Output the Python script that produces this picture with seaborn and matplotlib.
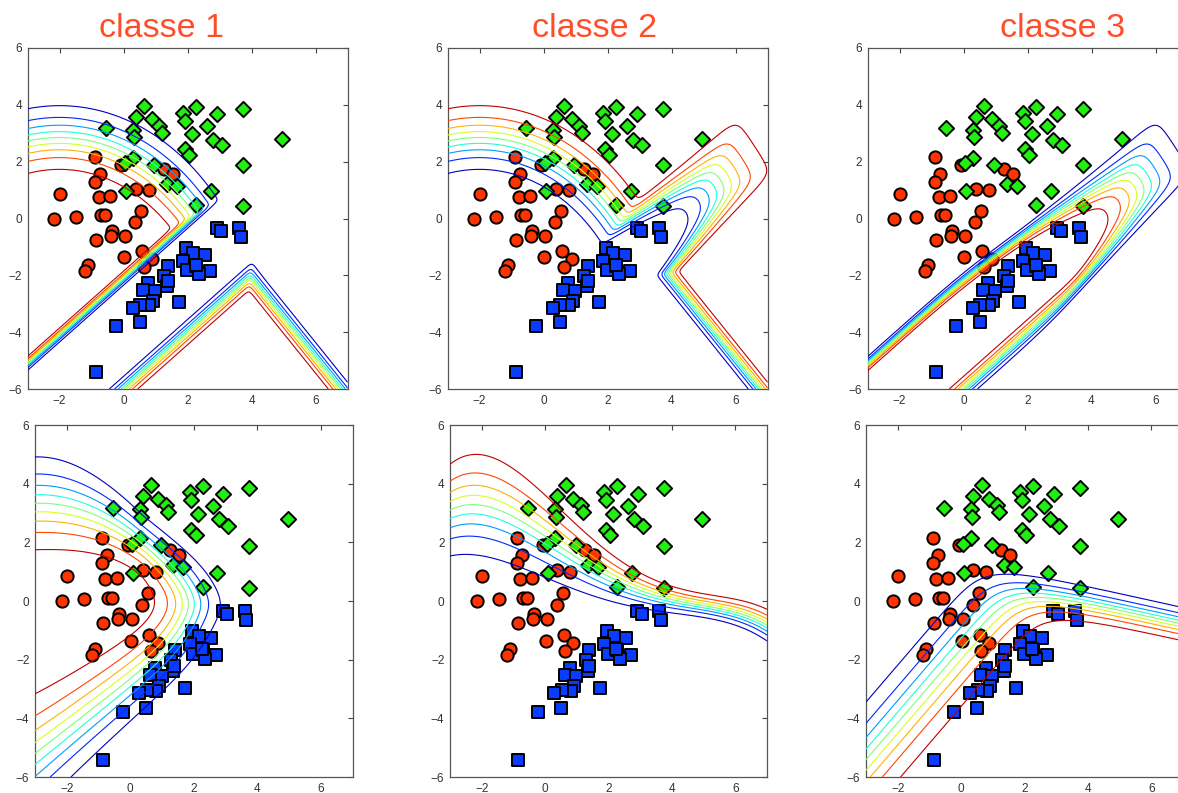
import numpy as np
import matplotlib
matplotlib.use("Agg")
import matplotlib.pyplot as plt
from matplotlib.colors import Normalize
from matplotlib.patches import Rectangle
import seaborn as sns

sns.set_style("white")
plt.rcParams["font.family"] = ["Liberation Sans", "DejaVu Sans"]

# ── data ──────────────────────────────────────
red_x = [-0.90, -1.99, -2.16, -1.47, -0.73, -0.90, -0.78, -0.42, -0.70, -0.57,
         -0.85, -0.36, -0.38, 0.05, 0.02, -1.11, -1.19, -0.08, 0.39, 0.80,
         0.55, 0.36, 0.59, 0.88, 0.64, 1.25, 1.54]
red_y = [2.16, 0.85, -0.01, 0.06, 1.58, 1.28, 0.75, 0.79, 0.11, 0.11,
         -0.74, -0.45, -0.60, -0.62, -1.36, -1.65, -1.85, 1.90, 1.04, 1.00,
         0.28, -0.12, -1.15, -1.42, -1.70, 1.73, 1.58]

green_x = [0.65, 0.39, -0.54, 0.31, 0.34, 0.88, 1.12, 1.19, 1.87, 1.92,
           2.28, 2.93, 3.74, 2.60, 2.13, 2.80, 3.09, 4.96, 1.92, 2.06,
           0.31, 0.05, 0.96, 1.35, 1.66, 0.08, 2.73, 2.28, 3.74, 3.74]
green_y = [3.96, 3.58, 3.17, 3.13, 2.88, 3.49, 3.27, 3.02, 3.72, 3.43,
           3.93, 3.66, 3.84, 3.25, 2.96, 2.78, 2.57, 2.81, 2.43, 2.25,
           2.14, 1.96, 1.90, 1.23, 1.16, 0.96, 0.96, 0.47, 1.88, 0.43]

blue_x = [2.91, 3.06, 3.60, 3.66, 1.94, 2.18, 2.54, 1.87, 1.97, 2.28,
          2.70, 2.37, 1.40, 1.28, 1.35, 0.78, 0.62, 0.99, 0.91, 0.81,
          0.52, 0.29, 1.73, -0.23, 0.50, -0.85, 2.25, 1.38]
blue_y = [-0.33, -0.45, -0.33, -0.65, -1.03, -1.21, -1.27, -1.48, -1.80, -1.68,
          -1.85, -1.97, -1.68, -2.01, -2.38, -2.27, -2.52, -2.56, -2.91, -3.06,
          -3.03, -3.15, -2.95, -3.79, -3.65, -5.41, -1.62, -2.20]

titles = ["classe 1", "classe 2", "classe 3"]
title_x = [161, 595, 1063]
x_ticks = [-2, 0, 2, 4, 6]
y_ticks = [-6, -4, -2, 0, 2, 4, 6]
levels = [0.1, 0.2, 0.3, 0.4, 0.5, 0.6, 0.7, 0.8, 0.9]

# bottom-middle band: centre line and 0.1-0.9 width, read at these x
bm_x = [-3.0, -1.5, 0.4, 1.33, 2.3, 3.5, 5.0, 7.0]
bm_mid = [3.1, 3.1, 2.0, 1.15, 0.69, 0.23, -0.18, -0.82]
bm_w = [3.17, 3.27, 2.75, 2.03, 1.52, 0.8, 0.97, 1.05]

RED, GREEN, BLUE = "#ff3300", "#22ee11", "#0a3cff"
TITLE_C = "#ff4d2a"

# ── decision fields ───────────────────────────
def sig(f):
    return 1.0 / (1.0 + np.exp(-f))

def smin(a, b, t):
    return -t * np.logaddexp(-a / t, -b / t)

def smax(a, b, t):
    return t * np.logaddexp(a / t, b / t)

gx = np.linspace(-3, 7, 401)
gy = np.linspace(-6, 6, 481)
X, Y = np.meshgrid(gx, gy)

# top row: pairwise scores (red/green, blue/red, blue/green)
gU = 1.96 * (8.32 - np.hypot(1.45 * (X + 2), Y + 5.47))
gA = 12.6 * (X - Y - 2.1) / np.sqrt(2)
gB = 7.0 * (Y - X + 6.0) / np.sqrt(2)
gR = 7.0 * (X - Y - 3.5) / np.sqrt(2)
gQ = 7.0 * (-1.4 * (X - 4) - 2.1 - Y) / 1.72
yu = -2.168 + 0.884 * X - 0.0256 * X ** 2
xl = 5.199 + 0.6296 * Y - 0.0315 * Y ** 2
wu = 0.53 + 0.08 * np.clip(X - 1, 0, None) ** 2
wl = 0.50 + 0.07 * np.clip(Y + 3, 0, None) ** 2
th = np.radians(30)
gC = 1.48 * (5.5 - (X * np.cos(th) + Y * np.sin(th)))

d12 = smax(gU, smin(gQ, gR, 0.5), 0.3)
d31 = smin(gA, gB, 0.4)
d32 = smin(smin(4.4 / wu * (yu - Y), 4.4 / wl * (xl - X), 0.4), gC, 0.4)
f1 = smin(d12, -d31, 0.4)
f3 = smin(d31, d32, 0.4)
f2 = smin(-d12, -d32, 0.4)

# bottom row
xc = np.minimum(X, 0.4) + 3
yU = 3.33 + 0.039 * xc - 0.131 * xc ** 2 - 0.852 * np.clip(X - 0.4, 0, None)
gU1b = 1.39 * (1 + 0.055 * xc ** 2) * (yU - Y)
gL1b = 1.08 * (Y - 0.844 * X + 2.668) * (1 + 0.14 * (X + 3))
gN1b = 2.23 * (1.87 - X - 0.5 * (np.sqrt(0.25 + (Y + 0.1) ** 2) - 0.5))
f1b = smin(smin(gU1b, gL1b, 1.0), gN1b, 0.6)
gLa = 1.8 * (1.26 * (X + 3) - 5.41 - Y) / 1.609
gRa = 4.0 * (0.05 - 0.24 * (X - 3.5) - Y) / 1.028
f3b = smin(gLa, gRa, 1.5)
mid_fit = np.polyval(np.polyfit(bm_x, bm_mid, 4), X)
w_fit = np.polyval(np.polyfit(bm_x, bm_w, 4), X)
f2b = (Y - mid_fit) * 4.4 / w_fit

fields = [[f1, f2, f3], [f1b, f2b, f3b]]

# ── figure ─────────────────────────────────
W, H = 1178, 793
fig = plt.figure(figsize=(W / 100, H / 100), dpi=100, facecolor="white")

boxes = [
    [(27.5, 48, 347.5, 389), (447.5, 48, 767.5, 389), (867.5, 48, 1187.5, 389)],
    [(35, 425, 352.5, 777), (450, 425, 767, 777), (866, 425, 1183, 777)],
]

norm = Normalize(0.05, 0.95)
for r in range(2):
    for c in range(3):
        x0, y0, x1, y1 = boxes[r][c]
        ax = fig.add_axes([x0 / W, 1 - y1 / H, (x1 - x0) / W, (y1 - y0) / H])
        sns.scatterplot(x=red_x, y=red_y, ax=ax, marker="o", s=78, color=RED,
                        edgecolor="black", linewidth=1.4, zorder=2, legend=False)
        sns.scatterplot(x=green_x, y=green_y, ax=ax, marker="D", s=60, color=GREEN,
                        edgecolor="black", linewidth=1.4, zorder=2, legend=False)
        sns.scatterplot(x=blue_x, y=blue_y, ax=ax, marker="s", s=64, color=BLUE,
                        edgecolor="black", linewidth=1.4, zorder=2, legend=False)
        ax.contour(X, Y, sig(fields[r][c]), levels=levels, cmap="jet", norm=norm,
                   linewidths=0.8, zorder=3)
        ax.set_xlim(-3, 7)
        ax.set_ylim(-6, 6)
        ax.set_xticks(x_ticks)
        ax.set_yticks(y_ticks)
        ax.set_xlabel("")
        ax.set_ylabel("")
        ax.tick_params(direction="in", length=3.5, width=0.8, top=True, right=True,
                       labelsize=8.5, labelcolor="#333333", color="#444444", pad=4)
        for sp in ax.spines.values():
            sp.set_edgecolor("#555555")
            sp.set_linewidth(0.9)

for t, tx in zip(titles, title_x):
    fig.text(tx / W, 1 - 37 / H, t, ha="center", va="baseline",
             fontsize=24.5, color=TITLE_C)

# the bottom screenshots are cut at their top edge
fig.add_artist(Rectangle((0, 1 - 421 / H), 1, 11 / H, transform=fig.transFigure,
                         facecolor="white", edgecolor="none", zorder=10))

fig.savefig("out.png", dpi=100, facecolor="white")
